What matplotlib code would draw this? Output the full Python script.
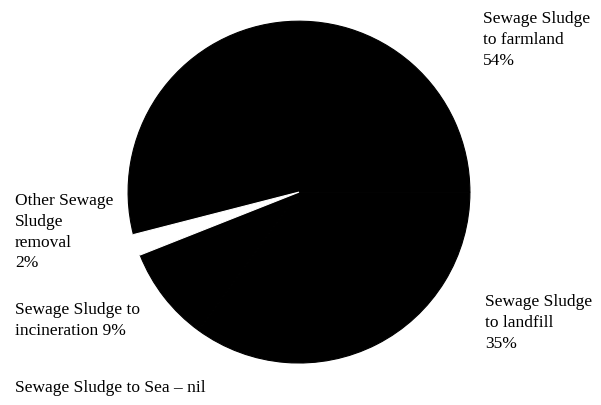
import matplotlib.pyplot as plt

labels = ['Sewage Sludge\nto farmland\n54%', 'Other Sewage\nSludge\nremoval\n2%',
          'Sewage Sludge to\nincineration 9%', 'Sewage Sludge\nto landfill\n35%']
shares = [54, 2, 9, 35]
colors = ['black', 'white', 'black', 'black']

plt.rcParams['font.family'] = ['Liberation Serif', 'DejaVu Serif']

fig = plt.figure(figsize=(6.01, 4.05), dpi=100)
ax = fig.add_axes([0.2130, 0.1037, 0.569, 0.844])
wedges, _ = ax.pie(shares, colors=colors, startangle=0, counterclock=True)
# black edges close the seams between the black slices
for w, c in zip(wedges, colors):
    w.set_edgecolor(c)
    w.set_linewidth(0.8)
wedges[1].set_zorder(3)
ax.set_xlim(-1, 1)
ax.set_ylim(-1, 1)
ax.set_aspect('equal')
ax.axis('off')

fs = 12.5
ls = 1.4
fig.text(483/601, 1 - 11/405, labels[0], fontsize=fs, va='top', ha='left', linespacing=ls)
fig.text(485/601, 1 - 294/405, labels[3], fontsize=fs, va='top', ha='left', linespacing=ls)
fig.text(15/601, 1 - 193/405, labels[1], fontsize=fs, va='top', ha='left', linespacing=ls)
fig.text(15/601, 1 - 302/405, labels[2], fontsize=fs, va='top', ha='left', linespacing=ls)
fig.text(15/601, 1 - 380/405, 'Sewage Sludge to Sea – nil', fontsize=fs, va='top', ha='left')

fig.savefig('out.png', dpi=100)
